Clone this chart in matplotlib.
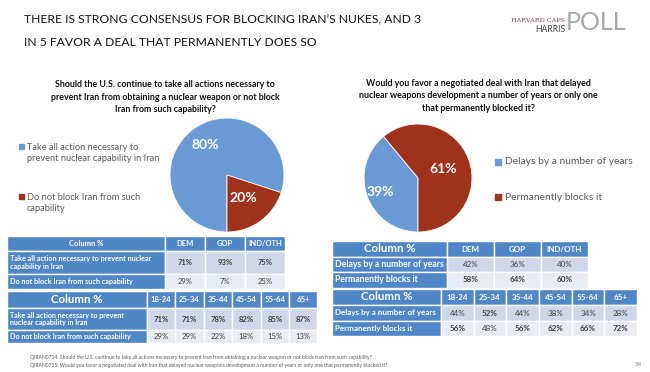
import numpy as np
import matplotlib.pyplot as plt
from matplotlib.patches import Rectangle

plt.rcParams['font.family'] = ['Lato', 'DejaVu Sans']

# data
pie1_labels = ['Take all action necessary to\nprevent nuclear capability in Iran',
               'Do not block Iran from such\ncapability']
pie1_values = [80, 20]
pie2_labels = ['Delays by a number of years', 'Permanently blocks it']
pie2_values = [39, 61]

party_cols = ['DEM', 'GOP', 'IND/OTH']
age_cols = ['18-24', '25-34', '35-44', '45-54', '55-64', '65+']

q1_rows_party = ['Take all action necessary to prevent nuclear\ncapability in Iran',
                 'Do not block Iran from such capability']
q1_rows_age = ['Take all action necessary to prevent\nnuclear capability in Iran',
               'Do not block Iran from such capability']
q1_party = [[71, 93, 75], [29, 7, 25]]
q1_age = [[71, 71, 78, 82, 85, 87], [29, 29, 22, 18, 15, 13]]

q2_rows = ['Delays by a number of years', 'Permanently blocks it']
q2_party = [[42, 36, 40], [58, 64, 60]]
q2_age = [[44, 52, 44, 38, 34, 28], [56, 48, 56, 62, 66, 72]]

BLUE = '#6A9AD6'
RED = '#A0321C'
HEAD = '#4F86C8'
ROW1 = '#CFD8EA'
ROW2 = '#E8ECF5'
GRAY = '#595959'

W, H = 650, 372
fig = plt.figure(figsize=(6.5, 3.72), dpi=100)
ax = fig.add_axes([0, 0, 1, 1])
ax.set_xlim(0, W)
ax.set_ylim(H, 0)
ax.axis('off')

# title + logo
ax.text(24, 20, "THERE IS STRONG CONSENSUS FOR BLOCKING IRAN\u2019S NUKES, AND 3",
        fontsize=8.7, va='center', color='#111111')
ax.text(24, 42, "IN 5 FAVOR A DEAL THAT PERMANENTLY DOES SO",
        fontsize=8.7, va='center', color='#111111')
ax.text(565, 20, 'HARVARD CAPS', family='DejaVu Serif', fontsize=4.6, color='#8B3A4A',
        ha='right', va='center')
ax.text(565, 30, 'HARRIS', fontsize=6.2, color='#444444', ha='right', va='center')
ax.text(566, 23, 'POLL', fontsize=18, color='#A6A6A6', ha='left', va='center')


def draw_pie(cx, cy, r, values, label_dist):
    pax = fig.add_axes([(cx - r) / W, 1 - (cy + r) / H, 2 * r / W, 2 * r / H])
    wedges, texts, autotexts = pax.pie(values, colors=[BLUE, RED], startangle=270,
                                       counterclock=False, autopct='%d%%',
                                       wedgeprops=dict(linewidth=0.6, edgecolor='white'),
                                       textprops=dict(color='white', fontsize=10,
                                                      fontweight='bold'))
    for t, d, w in zip(autotexts, label_dist, wedges):
        a = np.deg2rad((w.theta1 + w.theta2) / 2)
        t.set_position((d * np.cos(a), d * np.sin(a)))
    pax.set_xlim(-1, 1)
    pax.set_ylim(-1, 1)


draw_pie(227, 175, 57, pie1_values, [0.66, 0.5])
draw_pie(418, 178, 54, pie2_values, [0.74, 0.5])

# pie questions
ax.text(165, 97, 'Should the U.S. continue to take all actions necessary to\n'
        'prevent Iran from obtaining a nuclear weapon or not block\n'
        'Iran from such capability?', fontsize=6.4, fontweight='bold', ha='center',
        va='center', linespacing=1.45, color='#111111')
ax.text(478, 96, 'Would you favor a negotiated deal with Iran that delayed\n'
        'nuclear weapons development a number of years or only one\n'
        'that permanently blocked it?', fontsize=6.4, fontweight='bold', ha='center',
        va='center', linespacing=1.45, color='#111111')

# legends
for lab, col, y in zip(pie1_labels, [BLUE, RED], [153, 203]):
    ax.add_patch(Rectangle((19, y - 9), 5, 5, color=col))
    ax.text(27, y, lab, fontsize=6.7, color=GRAY, va='center', linespacing=1.35)
for lab, col, y in zip(pie2_labels, [BLUE, RED], [162, 197]):
    ax.add_patch(Rectangle((495, y - 3), 6, 6, color=col))
    ax.text(505, y, lab, fontsize=7.4, color=GRAY, va='center')


def draw_table(xs, ys, cols, rows, vals, head_fs, cell_fs, lab_fs):
    # header row
    ax.add_patch(Rectangle((xs[0], ys[0]), xs[1] - xs[0], ys[1] - ys[0],
                           facecolor=HEAD, edgecolor='white', lw=1))
    ax.text((xs[0] + xs[1]) / 2, (ys[0] + ys[1]) / 2, 'Column %', color='white',
            fontsize=head_fs, fontweight='bold', ha='center', va='center')
    for j, c in enumerate(cols):
        ax.add_patch(Rectangle((xs[j + 1], ys[0]), xs[j + 2] - xs[j + 1], ys[1] - ys[0],
                               facecolor=HEAD, edgecolor='white', lw=1))
        ax.text((xs[j + 1] + xs[j + 2]) / 2, (ys[0] + ys[1]) / 2, c, color='white',
                fontsize=cell_fs, fontweight='bold', ha='center', va='center')
    for i, lab in enumerate(rows):
        y0, y1 = ys[i + 1], ys[i + 2]
        ax.add_patch(Rectangle((xs[0], y0), xs[1] - xs[0], y1 - y0,
                               facecolor=HEAD, edgecolor='white', lw=1))
        ax.text(xs[0] + 3, (y0 + y1) / 2, lab, color='white', fontsize=lab_fs,
                fontweight='bold', va='center', linespacing=1.15)
        for j in range(len(cols)):
            v = vals[i][j]
            top = max(vals[k][j] for k in range(len(rows)))
            ax.add_patch(Rectangle((xs[j + 1], y0), xs[j + 2] - xs[j + 1], y1 - y0,
                                   facecolor=ROW1 if i == 0 else ROW2,
                                   edgecolor='white', lw=1))
            ax.text((xs[j + 1] + xs[j + 2]) / 2, (y0 + y1) / 2, f'{v}%',
                    color='#404040', fontsize=cell_fs,
                    fontweight='bold' if v == top else 'normal',
                    ha='center', va='center')


draw_table([7, 165, 205, 245, 285], [236, 251, 274, 289],
           party_cols, q1_rows_party, q1_party, 5.5, 5.5, 5.2)
draw_table([7, 147, 175, 204, 232, 261, 289, 317], [291, 308, 330, 343],
           age_cols, q1_rows_age, q1_age, 8.2, 5.6, 5.1)
draw_table([332, 447, 494, 541, 588], [241, 257, 272, 288],
           party_cols, q2_rows, q2_party, 8.2, 5.8, 6.2)
draw_table([332, 441, 474, 506, 539, 572, 604, 637], [289, 305, 321, 336],
           age_cols, q2_rows, q2_age, 8.2, 5.8, 5.8)

# footnotes
ax.text(30, 358, 'QIRAN0714: Should the U.S. continue to take all actions necessary to prevent Iran '
        'from obtaining a nuclear weapon or not block Iran from such capability?',
        fontsize=3.65, color=GRAY, va='center')
ax.text(30, 366, 'QIRAN0715: Would you favor a negotiated deal with Iran that delayed nuclear weapons '
        'development a number of years or only one that permanently blocked it?',
        fontsize=3.65, color=GRAY, va='center')
ax.text(638, 364, '54', fontsize=4.5, color='#7F7F7F', ha='center', va='center')

fig.savefig('out.png', dpi=100)
